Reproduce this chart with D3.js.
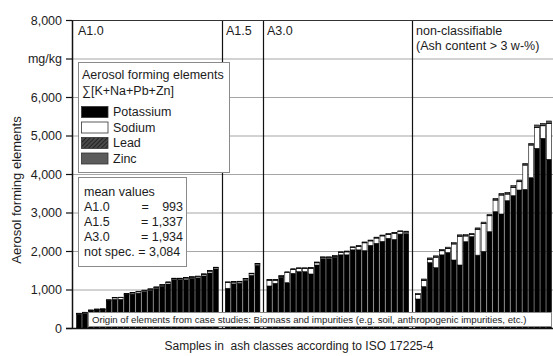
<!DOCTYPE html>
<html>
<head>
<meta charset="utf-8">
<script src="https://cdn.jsdelivr.net/npm/d3@7"></script>
<style>
  body { margin: 0; background: #fff; }
  svg text { font-family: "Liberation Sans", Arial, sans-serif; fill: #1c1c1c; white-space: pre; }
</style>
</head>
<body>
<svg id="chart" width="553" height="356"></svg>
<script>
// ---- data: aerosol forming elements per sample, mg/kg ----
const classNames = ["A1.0", "A1.5", "A3.0", "non-classifiable"];
const classNotes = ["", "", "", "(Ash content > 3 w-%)"];
const elementKeys = ["Potassium", "Sodium", "Lead", "Zinc"];

const a10Potassium = [360, 380, 445, 470, 475, 703, 743, 743, 861, 881, 906, 946, 976, 1026, 1083, 1143, 1253, 1253, 1253, 1288, 1303, 1353, 1428, 1533];
const a10Sodium    = [15, 20, 15, 15, 15, 20, 40, 45, 20, 30, 35, 25, 30, 30, 30, 40, 25, 25, 45, 30, 30, 40, 50, 30];
const a10Lead      = [2, 2, 2, 2, 2, 2, 2, 2, 2, 2, 2, 2, 2, 2, 2, 2, 2, 2, 2, 2, 2, 2, 2, 2];
const a10Zinc      = [8, 8, 8, 8, 8, 10, 10, 10, 12, 12, 12, 12, 12, 12, 15, 15, 15, 15, 15, 15, 15, 15, 15, 15];

const a15Potassium = [1032, 1147, 1162, 1237, 1367, 1627];
const a15Sodium    = [150, 45, 35, 35, 40, 35];
const a15Lead      = [3, 3, 3, 3, 3, 3];
const a15Zinc      = [15, 15, 15, 15, 15, 15];

const a30Potassium = [1091, 1160, 1316, 1177, 1420, 1463, 1463, 1403, 1636, 1800, 1800, 1836, 1900, 1900, 2030, 2030, 2009, 2147, 2200, 2250, 2330, 2300, 2440, 2450];
const a30Sodium    = [151, 82, 26, 260, 97, 79, 79, 149, 56, 27, 27, 26, 57, 77, 57, 92, 203, 115, 137, 142, 102, 162, 62, 42];
const a30Lead      = [3, 3, 3, 3, 3, 3, 3, 3, 3, 3, 3, 3, 3, 3, 3, 3, 3, 3, 3, 3, 3, 3, 3, 3];
const a30Zinc      = [20, 20, 20, 20, 20, 20, 20, 20, 20, 20, 20, 20, 20, 20, 20, 20, 20, 20, 20, 20, 20, 20, 20, 20];

const ncPotassium = [753, 1074, 1697, 1566, 1900, 1960, 1766, 1636, 2242, 2372, 1892, 1990, 2502, 3022, 2961, 3307, 3437, 3584, 3601, 3904, 4667, 4927, 4381];
const ncSodium    = [112, 164, 88, 274, 105, 105, 416, 749, 148, 53, 673, 725, 413, 301, 492, 172, 215, 215, 631, 848, 541, 325, 931];
const ncLead      = [5, 5, 5, 5, 5, 5, 5, 5, 5, 5, 5, 5, 5, 5, 5, 5, 5, 5, 5, 5, 5, 5, 5];
const ncZinc      = [30, 30, 30, 30, 30, 30, 30, 30, 30, 30, 30, 30, 30, 40, 40, 40, 40, 40, 40, 40, 60, 60, 60];

const yTickValues = [0, 1000, 2000, 3000, 4000, 5000, 6000, 7000, 8000];
const unitTickValue = 7000;
const unitLabel = "mg/kg";

const meanLabels = ["A1.0", "A1.5", "A3.0", "not spec."];
const meanValues = [993, 1337, 1934, 3084];

const legendTitle = "Aerosol forming elements";
const legendFormula = "\u2211[K+Na+Pb+Zn]";
const originNote = "Origin of elements from case studies: Biomass and impurities (e.g. soil, anthropogenic impurities, etc.)";
const yTitle = "Aerosol forming elements";
const xTitle = "Samples in  ash classes according to ISO 17225-4";

// ---- assemble samples; one empty slot separates the ash classes ----
const classData = [
  { K: a10Potassium, Na: a10Sodium, Pb: a10Lead, Zn: a10Zinc },
  { K: a15Potassium, Na: a15Sodium, Pb: a15Lead, Zn: a15Zinc },
  { K: a30Potassium, Na: a30Sodium, Pb: a30Lead, Zn: a30Zinc },
  { K: ncPotassium,  Na: ncSodium,  Pb: ncLead,  Zn: ncZinc }
];
const slots = [], rows = [], gapSlots = [];
classData.forEach((c, ci) => {
  c.K.forEach((k, i) => {
    const id = classNames[ci] + "#" + (i + 1);
    slots.push(id);
    rows.push({ id, Potassium: k, Sodium: c.Na[i], Lead: c.Pb[i], Zinc: c.Zn[i] });
  });
  if (ci < classData.length - 1) { const g = "gap" + ci; slots.push(g); gapSlots.push(g); }
});

// ---- layout ----
const svg = d3.select("#chart");
const plotLeft = 72, plotRight = 553, plotTop = 20, plotBottom = 328;

const x = d3.scaleBand().domain(slots).range([76, 552]).paddingInner(0.18).paddingOuter(0.09);
const y = d3.scaleLinear().domain([0, 8000]).range([plotBottom, plotTop]);

const fills = { Potassium: "#000", Sodium: "#fff", Lead: "url(#leadHatch)", Zinc: "#5c5c5c" };

const defs = svg.append("defs");
const pat = defs.append("pattern").attr("id", "leadHatch").attr("patternUnits", "userSpaceOnUse")
  .attr("width", 3).attr("height", 3).attr("patternTransform", "rotate(45)");
pat.append("rect").attr("width", 3).attr("height", 3).attr("fill", "#4a4a4a");
pat.append("line").attr("x1", 0).attr("y1", 0).attr("x2", 0).attr("y2", 3).attr("stroke", "#111").attr("stroke-width", 1.4);

// horizontal grid
svg.append("g").selectAll("line").data(yTickValues.filter(v => v > 0 && v < 8000)).join("line")
  .attr("x1", plotLeft).attr("x2", plotRight).attr("y1", d => y(d) + 0.5).attr("y2", d => y(d) + 0.5)
  .attr("stroke", "#a6a6a6").attr("stroke-width", 1);

// stacked bars
const series = d3.stack().keys(elementKeys)(rows);
svg.append("g").selectAll("g").data(series).join("g")
  .attr("fill", d => fills[d.key])
  .selectAll("rect").data(d => d).join("rect")
  .attr("x", d => x(d.data.id))
  .attr("width", x.bandwidth())
  .attr("y", d => y(d[1]))
  .attr("height", d => Math.max(0, y(d[0]) - y(d[1])))
  .attr("stroke", "#000").attr("stroke-width", 0.6);

// class separators
const sepX = g => Math.round(x(g) + x.bandwidth() / 2) + 0.5;
svg.append("g").selectAll("line").data(gapSlots).join("line")
  .attr("x1", sepX).attr("x2", sepX).attr("y1", plotTop).attr("y2", plotBottom)
  .attr("stroke", "#111").attr("stroke-width", 1.2);

// top frame
svg.append("line").attr("x1", plotLeft).attr("x2", plotRight).attr("y1", plotTop + 0.5).attr("y2", plotTop + 0.5)
  .attr("stroke", "#333").attr("stroke-width", 1.2);

// y axis
const yAxis = d3.axisLeft(y).tickValues(yTickValues).tickSize(6).tickSizeOuter(0).tickPadding(4)
  .tickFormat(d => d === unitTickValue ? unitLabel : d3.format(",")(d));
const ya = svg.append("g").attr("transform", `translate(${plotLeft},0)`).call(yAxis);
ya.select(".domain").attr("stroke", "#111").attr("stroke-width", 1.5);
ya.selectAll(".tick line").attr("stroke", "#111").attr("stroke-width", 1.2);
ya.selectAll(".tick text").attr("font-size", 12.5).attr("fill", "#1c1c1c")
  .style("font-family", '"Liberation Sans", Arial, sans-serif');

// class labels
const classStartX = classNames.map((n, i) => i === 0 ? plotLeft + 6 : sepX(gapSlots[i - 1]) + 3.5);
svg.append("g").selectAll("text").data(classNames).join("text")
  .attr("x", (d, i) => classStartX[i]).attr("y", 35).attr("font-size", 12.5).text(d => d);
svg.append("g").selectAll("text").data(classNotes.filter(n => n)).join("text")
  .attr("x", classStartX[3]).attr("y", 50).attr("font-size", 12.5).text(d => d);

// legend
const lg = svg.append("g");
lg.append("rect").attr("x", 78.5).attr("y", 62.5).attr("width", 151).attr("height", 110)
  .attr("fill", "#fff").attr("stroke", "#8a8a8a").attr("stroke-width", 1);
lg.append("text").attr("x", 82).attr("y", 78.5).attr("font-size", 12.5).text(legendTitle);
lg.append("text").attr("x", 82).attr("y", 95).attr("font-size", 12.5).text(legendFormula);
const li = lg.selectAll("g.item").data(elementKeys).join("g").attr("class", "item")
  .attr("transform", (d, i) => `translate(81.5,${106.5 + i * 15.5})`);
li.append("rect").attr("width", 26.5).attr("height", 11).attr("fill", d => fills[d])
  .attr("stroke", "#333").attr("stroke-width", 0.8);
li.append("text").attr("x", 31.5).attr("y", 9.5).attr("font-size", 12.5).text(d => d);

// mean values box
const mb = svg.append("g");
mb.append("rect").attr("x", 78.5).attr("y", 177.5).attr("width", 108).attr("height", 89)
  .attr("fill", "#fff").attr("stroke", "#8a8a8a").attr("stroke-width", 1);
mb.append("text").attr("x", 84).attr("y", 195.5).attr("font-size", 12.5).text("mean values");
const fmt = d3.format(",");
meanLabels.forEach((lab, i) => {
  const yy = 210.8 + i * 15.2;
  if (i === 3) {
    mb.append("text").attr("x", 84).attr("y", yy).attr("font-size", 12.5).text(lab + " = " + fmt(meanValues[i]));
  } else {
    mb.append("text").attr("x", 84).attr("y", yy).attr("font-size", 12.5).text(lab);
    if (i === 0) {
      mb.append("text").attr("x", 141.5).attr("y", yy).attr("font-size", 12.5).text("=");
      mb.append("text").attr("x", 183).attr("y", yy).attr("font-size", 12.5).attr("text-anchor", "end").text(fmt(meanValues[i]));
    } else {
      mb.append("text").attr("x", 183).attr("y", yy).attr("font-size", 12.5).attr("text-anchor", "end").text("= " + fmt(meanValues[i]));
    }
  }
});

// note box across the bar bases; text sized to run from 92 to ~527
const nb = svg.append("g");
nb.append("rect").attr("x", 88.5).attr("y", 312.5).attr("width", 463).attr("height", 14)
  .attr("fill", "#fff").attr("stroke", "#8a8a8a").attr("stroke-width", 1);
const note = nb.append("text").attr("x", 92).attr("y", 322.8).attr("font-size", 11).text(originNote);
const noteLen = note.node().getComputedTextLength();
if (noteLen > 0) note.attr("font-size", Math.min(11, 11 * 435 / noteLen));

// x baseline
svg.append("line").attr("x1", plotLeft - 6).attr("x2", plotRight).attr("y1", plotBottom + 0.5).attr("y2", plotBottom + 0.5)
  .attr("stroke", "#111").attr("stroke-width", 1.5);

// axis titles
svg.append("text").attr("transform", "translate(21,190) rotate(-90)").attr("text-anchor", "middle")
  .attr("font-size", 13).text(yTitle);
svg.append("text").attr("x", 299).attr("y", 350).attr("text-anchor", "middle")
  .attr("font-size", 12).text(xTitle);
</script>
</body>
</html>
